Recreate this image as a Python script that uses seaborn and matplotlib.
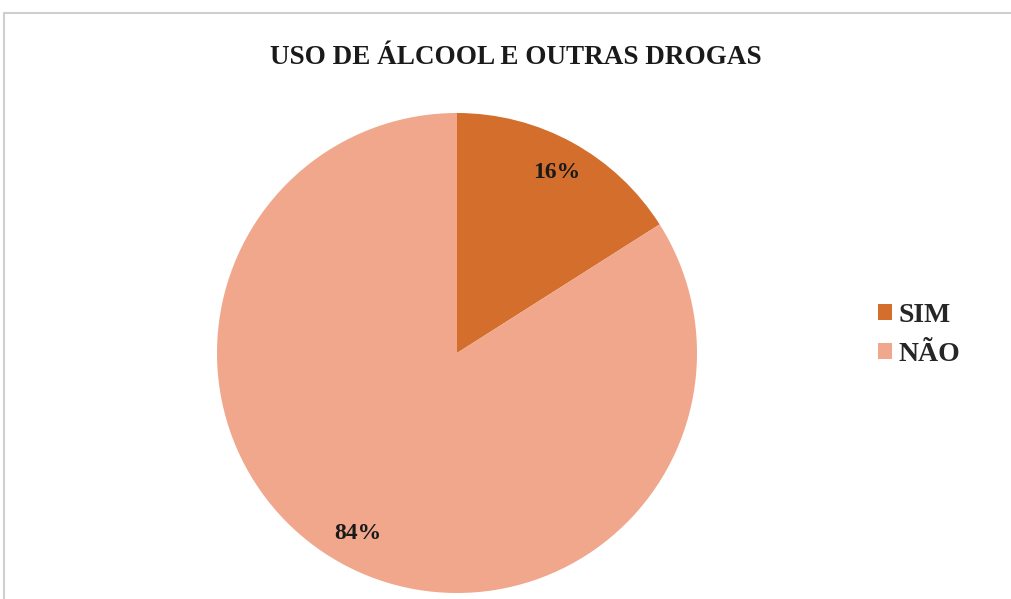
import matplotlib
matplotlib.use("Agg")
import matplotlib.pyplot as plt
import seaborn as sns
from matplotlib.lines import Line2D

categories = ["SIM", "NÃO"]
values = [16, 84]
colors = ["#D46E2C", "#F0A78C"]
title = "USO DE ÁLCOOL E OUTRAS DROGAS"

sns.set_theme(style="white")
plt.rcParams['font.family'] = ['Liberation Serif', 'DejaVu Serif']

fig = plt.figure(figsize=(10.11, 5.99), dpi=100)
W, H = 1011, 599

# frame lines
fig.add_artist(Line2D([4/W, 1], [1-13/H, 1-13/H], color="#CFCFCF", lw=1.5, transform=fig.transFigure))
fig.add_artist(Line2D([4/W, 4/W], [0, 1-13/H], color="#CFCFCF", lw=1.5, transform=fig.transFigure))

r = 240
cx, cy = 457, 353
ax = fig.add_axes([(cx - r)/W, (H - cy - r)/H, 2*r/W, 2*r/H])
wedges, texts, autotexts = ax.pie(values, colors=colors, startangle=90, counterclock=False,
                                  autopct="%1.0f%%", pctdistance=0.86, radius=1,
                                  wedgeprops=dict(linewidth=0),
                                  textprops=dict(fontsize=17, fontweight="bold", color="#1a1a1a"))
ax.set_xlim(-1, 1)
ax.set_ylim(-1, 1)
ax.set_aspect("equal")
ax.axis("off")

fig.text(516/W, 1 - 58/H, title, ha="center", va="center", fontsize=19.5, fontweight="bold", color="#1a1a1a")

fig.legend(wedges, categories, loc="center left", bbox_to_anchor=(853/W, 1 - 335/H),
           frameon=False, prop=dict(weight="bold", size=20),
           handlelength=0.5, handleheight=0.5, handletextpad=0.25, labelspacing=0.5)

fig.savefig("out.png", dpi=100)
